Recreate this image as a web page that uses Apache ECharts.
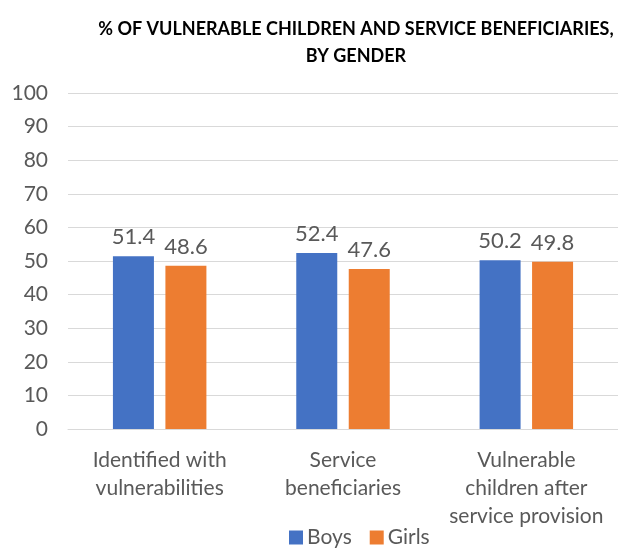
<!DOCTYPE html>
<html lang="en">
  <head>
    <meta charset="UTF-8" />
    <title>Vulnerable children by gender</title>
  </head>
  <body style="margin: 0">
    <div id="main" style="width: 618px; height: 553px"></div>

    <script src="https://cdn.jsdelivr.net/npm/echarts@6/dist/echarts.min.js"></script>
    <script>
      // data
      const categories = [
        'Identified with\nvulnerabilities',
        'Service\nbeneficiaries',
        'Vulnerable\nchildren after\nservice provision'
      ]
      const boys = [51.4, 52.4, 50.2]
      const girls = [48.6, 47.6, 49.8]

      const textColor = '#595959'
      const font = 'Lato'

      const myChart = echarts.init(document.getElementById('main'))

      const labelStyle = {
        show: true,
        position: 'top',
        distance: 8,
        fontFamily: font,
        fontSize: 22,
        color: textColor,
        formatter: p => p.value.toFixed(1)
      }

      const option = {
        backgroundColor: '#fff',
        textStyle: { fontFamily: font },
        title: {
          text: '% OF VULNERABLE CHILDREN AND SERVICE BENEFICIARIES,\nBY GENDER',
          left: 351,
          top: 11,
          textAlign: 'center',
          textStyle: {
            fontFamily: font,
            fontSize: 18,
            fontWeight: 'bold',
            color: '#000',
            lineHeight: 27
          }
        },
        legend: {
          bottom: 0,
          left: 284,
          icon: 'rect',
          itemWidth: 14,
          itemHeight: 14,
          itemGap: 18,
          textStyle: { fontFamily: font, fontSize: 21, color: textColor, padding: [0, 0, 0, -1] }
        },
        grid: { left: 68, top: 93, width: 555, bottom: 124 },
        xAxis: {
          type: 'category',
          data: categories,
          axisTick: { show: false },
          axisLine: { lineStyle: { color: '#d9d9d9', width: 1 } },
          axisLabel: {
            interval: 0,
            hideOverlap: false,
            margin: 17,
            fontFamily: font,
            fontSize: 21,
            lineHeight: 28,
            color: textColor
          }
        },
        yAxis: {
          type: 'value',
          min: 0,
          max: 100,
          interval: 10,
          axisLabel: { margin: 20, fontFamily: font, fontSize: 21, color: textColor },
          splitLine: { lineStyle: { color: '#d9d9d9', width: 1 } }
        },
        series: [
          {
            name: 'Boys',
            type: 'bar',
            data: boys,
            barWidth: 41,
            barGap: '28%',
            itemStyle: { color: '#4472C4' },
            label: labelStyle
          },
          {
            name: 'Girls',
            type: 'bar',
            data: girls,
            barWidth: 41,
            itemStyle: { color: '#ED7D31' },
            label: labelStyle
          }
        ]
      }

      myChart.setOption(option)
    </script>
  </body>
</html>
